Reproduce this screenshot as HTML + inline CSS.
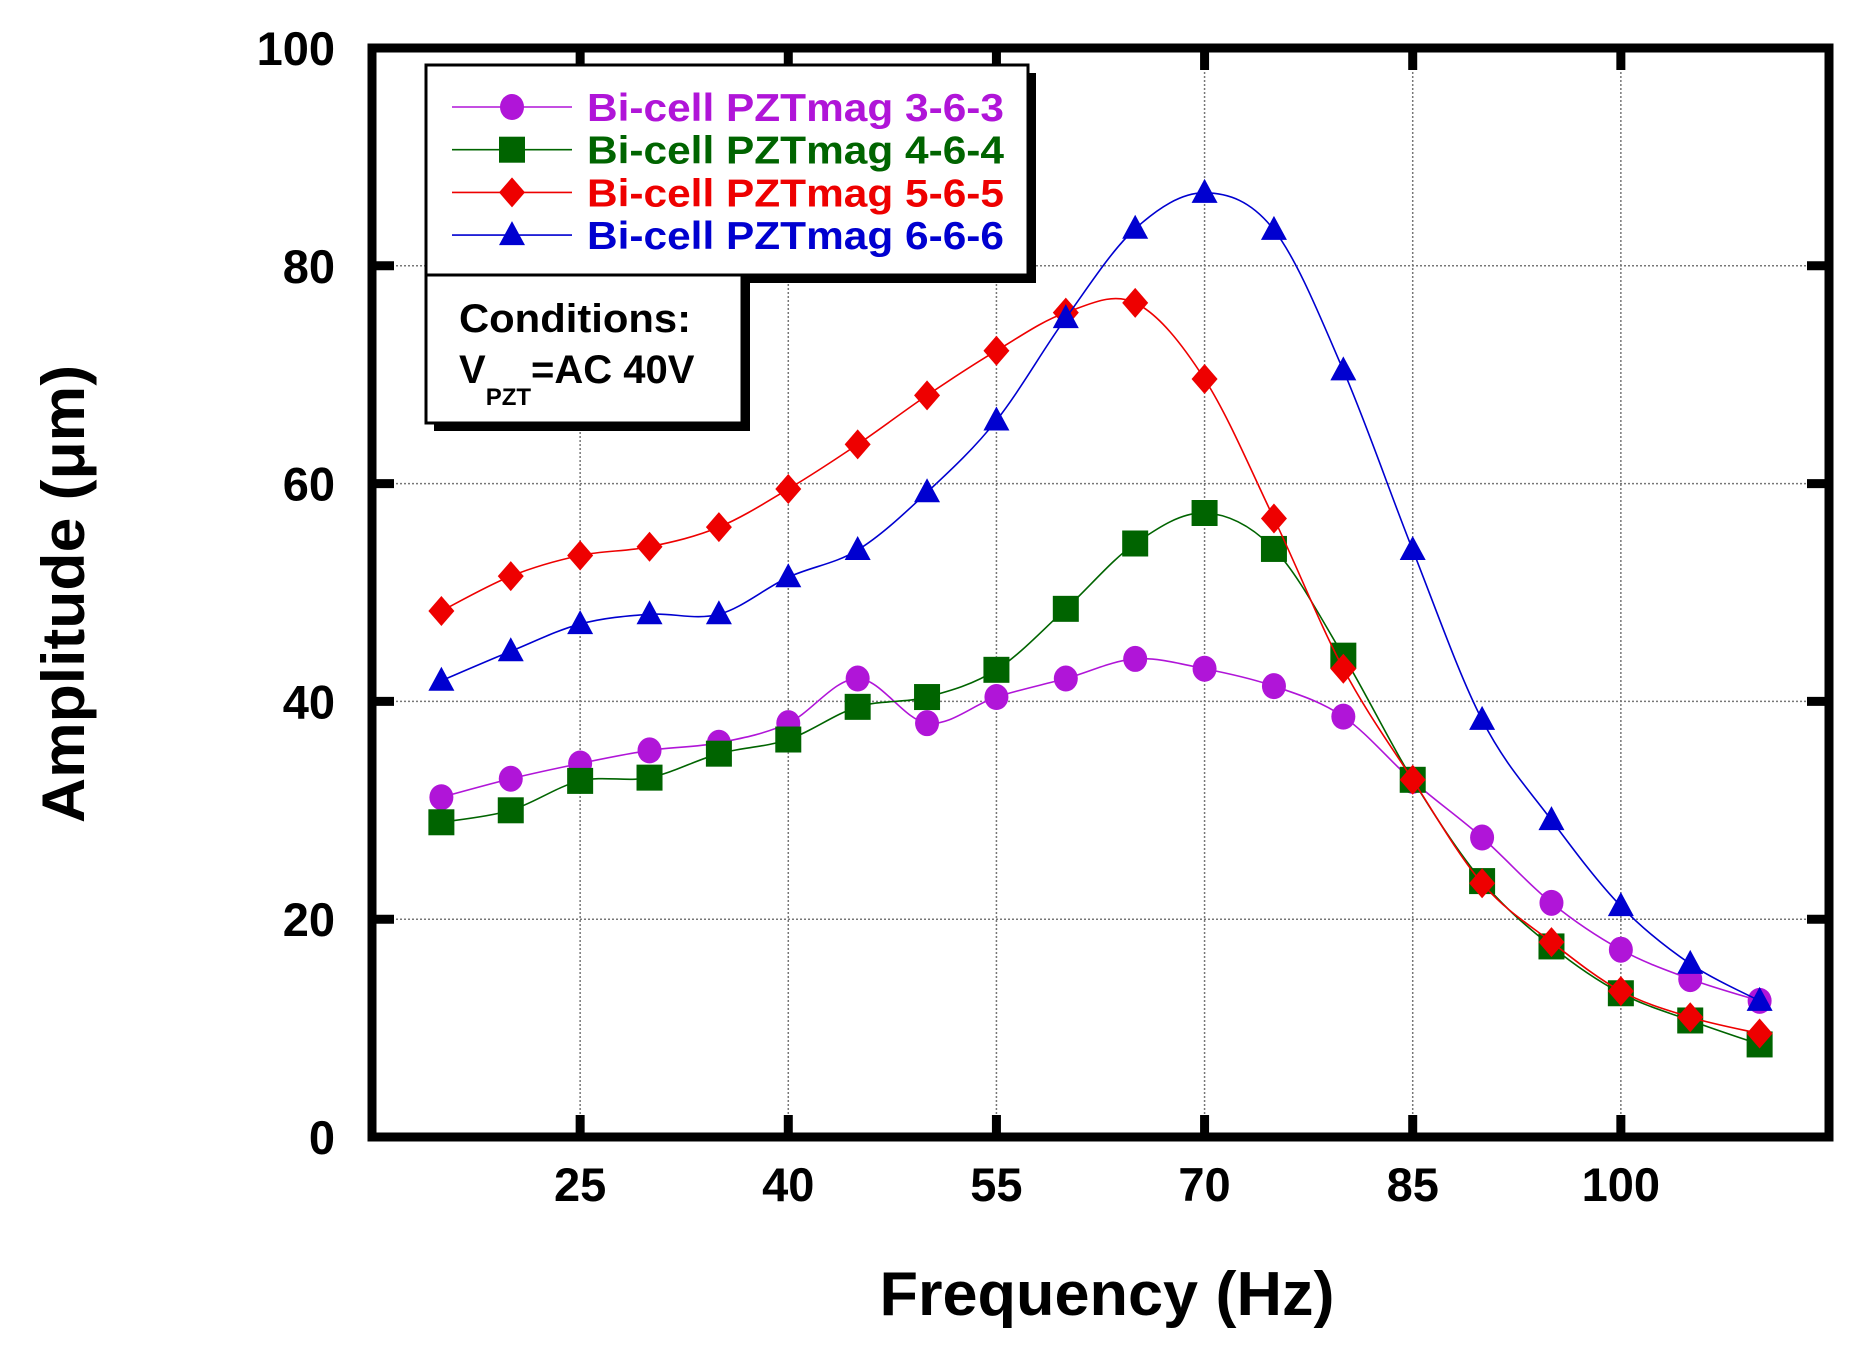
<!DOCTYPE html>
<html><head><meta charset="utf-8"><style>
html,body{margin:0;padding:0;background:#fff;}
svg{display:block;font-family:"Liberation Sans",sans-serif;font-weight:bold;}
</style></head><body>
<svg id="chart" width="1859" height="1354" viewBox="0 0 1859 1354" xmlns="http://www.w3.org/2000/svg">
<g id="grid"></g>
<g id="series"></g>
<g id="axes"></g>
<text transform="translate(84,594) rotate(-90)" text-anchor="middle" font-size="60" textLength="458" lengthAdjust="spacingAndGlyphs">Amplitude (μm)</text>
<text x="1107" y="1315" text-anchor="middle" font-size="62" textLength="455" lengthAdjust="spacingAndGlyphs">Frequency (Hz)</text>
<g>
<rect x="434" y="73" width="602" height="210" fill="#000"/>
<rect x="426" y="65" width="602" height="210" fill="#fff" stroke="#000" stroke-width="3"/>
<g id="legend-entries"></g>
</g>
<g>
<rect x="434" y="283" width="316" height="148" fill="#000"/>
<rect x="426" y="275" width="316" height="148" fill="#fff" stroke="#000" stroke-width="3"/>
<text x="459" y="332" font-size="40" textLength="232" lengthAdjust="spacingAndGlyphs">Conditions:</text>
<text x="459" y="383" font-size="40">V<tspan font-size="24" dy="22">PZT</tspan><tspan dy="-22">=AC 40V</tspan></text>
</g>
</svg>
<script>
const freqs = [15,20,25,30,35,40,45,50,55,60,65,70,75,80,85,90,95,100,105,110];
const s363 = [31.2,32.9,34.3,35.5,36.2,38,42.1,38,40.4,42.1,43.9,43,41.4,38.6,32.7,27.5,21.5,17.2,14.5,12.5];
const s464 = [28.9,30,32.7,33,35.2,36.5,39.5,40.4,42.9,48.5,54.5,57.3,54,44.2,32.8,23.5,17.5,13.2,10.7,8.5];
const s565 = [48.3,51.5,53.4,54.2,56,59.5,63.6,68.1,72.2,75.7,76.6,69.6,56.8,43,32.8,23.3,17.9,13.4,11,9.5];
const s666 = [41.9,44.6,47.1,48,48,51.4,53.9,59.2,65.8,75.2,83.4,86.7,83.3,70.4,53.9,38.3,29.1,21.2,15.9,12.5];
const xTicks = [25,40,55,70,85,100];
const yTicks = [0,20,40,60,80,100];
const seriesNames = ["Bi-cell PZTmag 3-6-3","Bi-cell PZTmag 4-6-4","Bi-cell PZTmag 5-6-5","Bi-cell PZTmag 6-6-6"];

const NS="http://www.w3.org/2000/svg";
const L=372,R=1829,T=48,B=1137;
const xS=v=>L+(v-10)/(115-10)*(R-L);
const yS=v=>B-v/100*(B-T);
function mk(tag,attrs,parent){const e=document.createElementNS(NS,tag);for(const k in attrs)e.setAttribute(k,attrs[k]);parent.appendChild(e);return e;}
const grid=document.getElementById('grid'),axes=document.getElementById('axes'),ser=document.getElementById('series');

xTicks.forEach(t=>{
  const g=mk('line',{x1:xS(t),x2:xS(t),y1:T,y2:B,stroke:'#777','stroke-width':1.5,'stroke-dasharray':'2,2'},grid);
  
  
  const tk=mk('path',{d:`M${xS(t)},${B}v-22M${xS(t)},${T}v22`,stroke:'#000','stroke-width':9},axes);
  
  
  const tx=mk('text',{x:xS(t),y:1201,'text-anchor':'middle','font-size':47},axes);
  tx.textContent=t;
  
  
});
yTicks.forEach(t=>{
  if(t>0&&t<100){
    const g=mk('line',{x1:L,x2:R,y1:yS(t),y2:yS(t),stroke:'#777','stroke-width':1.5,'stroke-dasharray':'2,2'},grid);
    
    
  }
  const tk=mk('path',{d:`M${L},${yS(t)}h22M${R},${yS(t)}h-22`,stroke:'#000','stroke-width':9},axes);
  
  
  const tx=mk('text',{x:335,y:yS(t)+17,'text-anchor':'end','font-size':47},axes);
  tx.textContent=t;
  
  
});
const frame=mk('rect',{x:L,y:T,width:R-L,height:B-T,fill:'none',stroke:'#000','stroke-width':9},axes);



function smooth(pts){
  let d=`M${pts[0][0]},${pts[0][1]}`;
  for(let i=0;i<pts.length-1;i++){
    const p0=pts[Math.max(0,i-1)],p1=pts[i],p2=pts[i+1],p3=pts[Math.min(pts.length-1,i+2)];
    const c1=[p1[0]+(p2[0]-p0[0])/6,p1[1]+(p2[1]-p0[1])/6];
    const c2=[p2[0]-(p3[0]-p1[0])/6,p2[1]-(p3[1]-p1[1])/6];
    d+=`C${c1[0]},${c1[1]} ${c2[0]},${c2[1]} ${p2[0]},${p2[1]}`;
  }
  return d;
}
function marker(type,x,y,color,parent){
  let e;
  if(type==='circle') e=mk('ellipse',{cx:x,cy:y,rx:12,ry:13,fill:color},parent);
  else if(type==='square') e=mk('rect',{x:x-13,y:y-13,width:26,height:26,fill:color},parent);
  else if(type==='diamond') e=mk('path',{d:`M${x},${y-15}L${x+13},${y}L${x},${y+15}L${x-13},${y}Z`,fill:color},parent);
  else e=mk('path',{d:`M${x},${y-14}L${x+13},${y+10}L${x-13},${y+10}Z`,fill:color},parent);
  return e;
}
const defs=[
  {vals:s363,color:'#b015d8',type:'circle',name:'series-3-6-3'},
  {vals:s464,color:'#006400',type:'square',name:'series-4-6-4'},
  {vals:s565,color:'#ee0000',type:'diamond',name:'series-5-6-5'},
  {vals:s666,color:'#0000d0',type:'triangle',name:'series-6-6-6'}
];
defs.forEach((s,si)=>{
  const g=mk('g',{},ser);
  
  
  const pts=freqs.map((f,i)=>[xS(f),yS(s.vals[i])]);
  const ln=mk('path',{d:smooth(pts),fill:'none',stroke:s.color,'stroke-width':1.6},g);
  
  
  pts.forEach(p=>{
    const m=marker(s.type,p[0],p[1],s.color,g);
    
    
  });
  const le=document.getElementById('legend-entries');
  const ly=107+si*42.7;
  const lg=mk('g',{},le);
  
  
  mk('line',{x1:452,x2:572,y1:ly,y2:ly,stroke:s.color,'stroke-width':1.6},lg);
  marker(s.type,512,ly,s.color,lg);
  const t=mk('text',{x:587,y:ly+14,'font-size':39,fill:s.color,textLength:417,lengthAdjust:'spacingAndGlyphs'},lg);
  t.textContent=seriesNames[si];
});
</script>
</body></html>
